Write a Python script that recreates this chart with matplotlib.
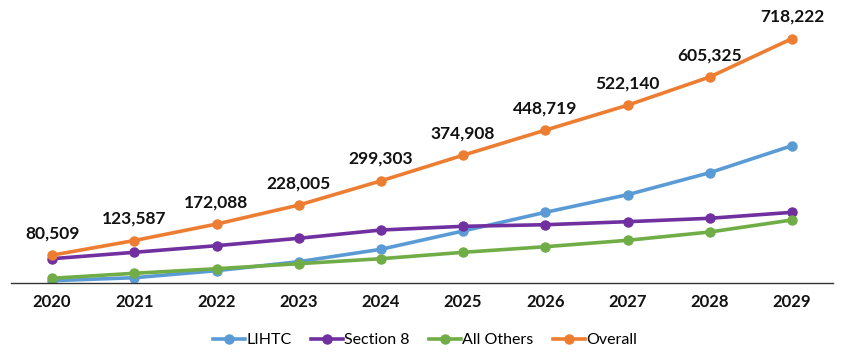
import matplotlib
matplotlib.use("Agg")
import matplotlib.pyplot as plt

years = [2020, 2021, 2022, 2023, 2024, 2025, 2026, 2027, 2028, 2029]
lihtc = [5300, 14100, 34800, 61300, 97800, 151700, 206700, 258600, 323400, 402900]
section8 = [70100, 88900, 108400, 130200, 154600, 165500, 170200, 179100, 189100, 206700]
all_others = [12400, 27100, 40600, 55400, 70100, 88900, 105400, 124300, 148700, 184100]
overall = [80509, 123587, 172088, 228005, 299303, 374908, 448719, 522140, 605325, 718222]

series = [
    ("LIHTC", lihtc, "#5B9BD5"),
    ("Section 8", section8, "#7030A0"),
    ("All Others", all_others, "#70AD47"),
    ("Overall", overall, "#ED7D31"),
]

plt.rcParams['font.family'] = ['Lato', 'DejaVu Sans']

fig = plt.figure(figsize=(8.5, 3.61), dpi=100)
ax = fig.add_axes([11 / 850, 78.5 / 361, 822 / 850, 271.6 / 361])

x = list(range(len(years)))
for name, vals, col in series:
    ax.plot(x, vals, color=col, lw=2.6, marker="o", ms=6.5, label=name)

# data labels on the overall line
for xi, v in zip(x, overall):
    ax.annotate(f"{v:,}", (xi, v), xytext=(0, 10), textcoords="offset points",
                ha="center", va="bottom", fontsize=12.5, fontweight="bold", color="#111111")

ax.set_xlim(-0.5, len(years) - 0.5)
ax.set_ylim(0, 800000)
ax.set_xticks(x)
ax.set_xticklabels([str(y) for y in years], fontsize=12, fontweight="bold", color="#111111")
ax.tick_params(axis="x", length=0, pad=8)
ax.set_yticks([])
for s in ["top", "right", "left"]:
    ax.spines[s].set_visible(False)
ax.spines["bottom"].set_color("#333333")
ax.spines["bottom"].set_linewidth(1.0)

fig.legend(loc="center", bbox_to_anchor=(0.5, 1 - 340 / 361), ncol=4, frameon=False,
           fontsize=11.5, handlelength=2.0, handletextpad=0.1, columnspacing=1.2)

fig.savefig("out.png", dpi=100)
plt.close()
